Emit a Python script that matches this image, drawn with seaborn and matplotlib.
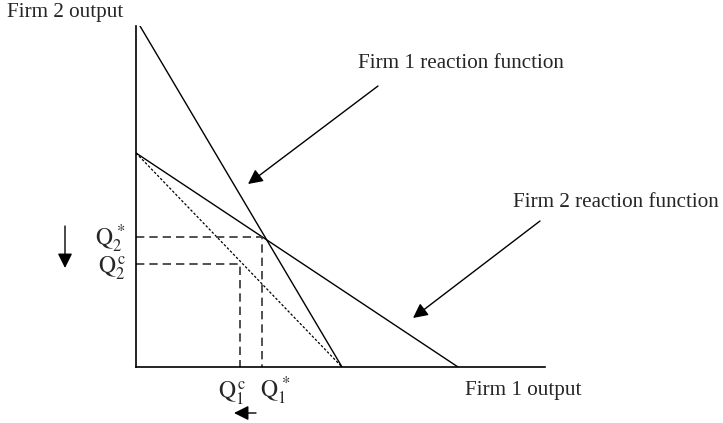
import numpy as np
import pandas as pd
import matplotlib.pyplot as plt
import seaborn as sns

# ---------------------------------------------------
# Data (output units, origin at the axes corner)
# ---------------------------------------------------
firm1_q1 = [0.4, 20.6]     # firm 1 reaction function
firm1_q2 = [34.1, 0.0]
firm2_q1 = [0.0, 32.2]     # firm 2 reaction function
firm2_q2 = [21.4, 0.0]
shift_q1 = [0.0, 20.6]     # shifted (dotted) reaction function
shift_q2 = [21.4, 0.0]
q_star = [12.6, 13.0]      # Q1*, Q2*
q_c = [10.4, 10.3]         # Q1c, Q2c

x_max, y_max = 40.9, 34.1

sns.set_style("white")
plt.rcParams['font.family'] = ['Liberation Serif', 'DejaVu Serif']
plt.rcParams['mathtext.fontset'] = 'stix'

fig = plt.figure(figsize=(7.23, 4.23), dpi=100)
ax = fig.add_axes([136 / 723, 56 / 423, 409 / 723, 341 / 423])


def px(x, y):
    # figure pixel -> data coords (10 px per unit, origin at 136,367)
    return (x - 136) / 10, (367 - y) / 10


# reaction functions
sns.lineplot(x=firm1_q1, y=firm1_q2, ax=ax, color='black', lw=1.0, sort=False, estimator=None)
sns.lineplot(x=firm2_q1, y=firm2_q2, ax=ax, color='black', lw=1.0, sort=False, estimator=None)
sns.lineplot(x=shift_q1, y=shift_q2, ax=ax, color='black', lw=0.9,
             linestyle=(0, (2, 1.5)), sort=False, estimator=None)

# guide lines to the equilibria
for q in (q_star, q_c):
    sns.lineplot(x=[0, q[0], q[0]], y=[q[1], q[1], 0], ax=ax, color='#333333', lw=1.2,
                 linestyle=(0, (5, 3)), sort=False, estimator=None)

ax.set_xlim(0, x_max)
ax.set_ylim(0, y_max)
ax.set_xticks([])
ax.set_yticks([])
sns.despine(ax=ax)
for s in ('left', 'bottom'):
    ax.spines[s].set_color('black')
    ax.spines[s].set_linewidth(1.2)

fs = 15.2
qfs = 17
arrow = dict(arrowstyle='-|>', color='black', lw=1.0, mutation_scale=22, shrinkA=0, shrinkB=0)

# axis titles
ax.text(*px(7, 13), "Firm 2 output", fontsize=fs, ha='left', va='center', clip_on=False)
ax.text(*px(465, 390), "Firm 1 output", fontsize=fs, ha='left', va='center', clip_on=False)

# function labels with arrows
ax.text(*px(358, 64), "Firm 1 reaction function", fontsize=fs, ha='left', va='center', clip_on=False)
ax.annotate("", xy=px(248, 184), xytext=px(378, 86), arrowprops=arrow, annotation_clip=False)
ax.text(*px(513, 202), "Firm 2 reaction function", fontsize=fs, ha='left', va='center', clip_on=False)
ax.annotate("", xy=px(413, 318), xytext=px(540, 221), arrowprops=arrow, annotation_clip=False)

# quantity labels
ax.text(-1.0, q_star[1] - 0.9, r"$\mathrm{Q_2^{\,*}}$", fontsize=qfs, ha='right', va='baseline', clip_on=False)
ax.text(-1.0, q_c[1] - 0.9, r"$\mathrm{Q_2^{\,c}}$", fontsize=qfs, ha='right', va='baseline', clip_on=False)
ax.text(q_c[0] - 0.8, -3.1, r"$\mathrm{Q_1^{\,c}}$", fontsize=qfs, ha='center', va='baseline', clip_on=False)
ax.text(q_star[0] + 1.4, -3.1, r"$\mathrm{Q_1^{\,*}}$", fontsize=qfs, ha='center', va='baseline', clip_on=False)

# direction arrows
ax.annotate("", xy=px(65, 268), xytext=px(65, 226), arrowprops=arrow, annotation_clip=False)
ax.annotate("", xy=px(234, 413), xytext=px(256, 413), arrowprops=arrow, annotation_clip=False)

fig.savefig("out.png", dpi=100)
